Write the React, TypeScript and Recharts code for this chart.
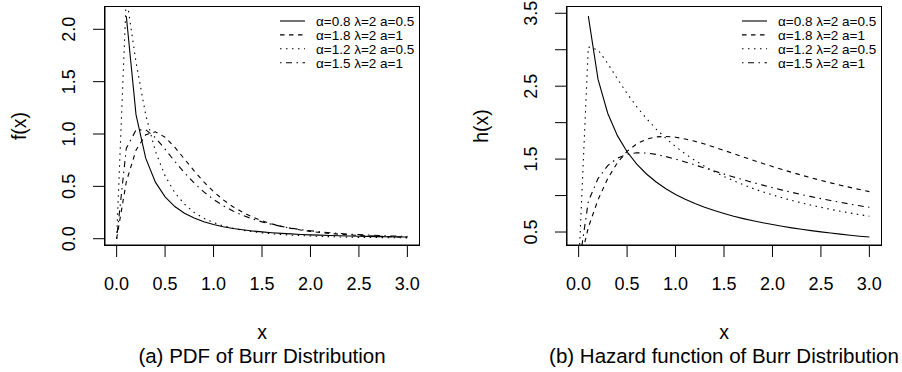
import { LineChart, Line, XAxis, YAxis, Legend, Label } from "recharts";

const FONT = '"Liberation Sans", Arial, Helvetica, sans-serif';

const xs = [
  0, 0.1, 0.2, 0.3, 0.4, 0.5, 0.6, 0.7, 0.8, 0.9, 1.0, 1.1, 1.2, 1.3, 1.4, 1.5,
  1.6, 1.7, 1.8, 1.9, 2.0, 2.1, 2.2, 2.3, 2.4, 2.5, 2.6, 2.7, 2.8, 2.9, 3.0,
];

// (a) pdf
const pdfA = [
  null, 2.125, 1.185, 0.769, 0.54, 0.4, 0.307, 0.243, 0.197, 0.162, 0.135, 0.115, 0.098, 0.085, 0.074, 0.065,
  0.057, 0.051, 0.046, 0.041, 0.037, 0.034, 0.031, 0.028, 0.026, 0.024, 0.022, 0.02, 0.019, 0.017, 0.016,
];
const pdfB = [
  0, 0.544, 0.846, 0.993, 1.021, 0.97, 0.874, 0.761, 0.648, 0.542, 0.45, 0.371, 0.306, 0.252, 0.207, 0.171,
  0.142, 0.118, 0.099, 0.083, 0.07, 0.059, 0.05, 0.043, 0.037, 0.031, 0.027, 0.024, 0.02, 0.018, 0.016,
];
const pdfC = [
  0, 2.318, 1.687, 1.183, 0.835, 0.6, 0.44, 0.33, 0.251, 0.195, 0.154, 0.123, 0.1, 0.081, 0.067, 0.056,
  0.047, 0.04, 0.034, 0.03, 0.026, 0.022, 0.02, 0.017, 0.015, 0.013, 0.012, 0.011, 0.01, 0.009, 0.008,
];
const pdfD = [
  0, 0.864, 1.038, 1.041, 0.965, 0.855, 0.739, 0.63, 0.532, 0.447, 0.375, 0.315, 0.265, 0.224, 0.189, 0.161,
  0.137, 0.118, 0.101, 0.087, 0.076, 0.066, 0.057, 0.05, 0.044, 0.039, 0.035, 0.031, 0.027, 0.024, 0.022,
];

// (b) hazard
const hazA = [
  null, 3.46, 2.596, 2.129, 1.822, 1.6, 1.43, 1.296, 1.186, 1.094, 1.016, 0.949, 0.891, 0.84, 0.794, 0.754,
  0.717, 0.684, 0.654, 0.627, 0.602, 0.578, 0.557, 0.537, 0.519, 0.502, 0.486, 0.471, 0.456, 0.443, 0.431,
];
const hazB = [
  0, 0.562, 0.942, 1.233, 1.451, 1.606, 1.71, 1.773, 1.804, 1.811, 1.8, 1.776, 1.744, 1.706, 1.664, 1.619,
  1.574, 1.529, 1.485, 1.441, 1.398, 1.357, 1.318, 1.28, 1.243, 1.208, 1.174, 1.142, 1.112, 1.082, 1.054,
];
const hazC = [
  0, 3.039, 2.998, 2.811, 2.601, 2.4, 2.218, 2.056, 1.912, 1.785, 1.672, 1.572, 1.482, 1.401, 1.328, 1.262,
  1.202, 1.148, 1.097, 1.051, 1.009, 0.97, 0.933, 0.899, 0.868, 0.839, 0.811, 0.785, 0.761, 0.738, 0.717,
];
const hazD = [
  0, 0.92, 1.232, 1.411, 1.514, 1.567, 1.587, 1.583, 1.564, 1.535, 1.5, 1.461, 1.42, 1.378, 1.336, 1.295,
  1.255, 1.216, 1.179, 1.143, 1.108, 1.075, 1.044, 1.014, 0.985, 0.958, 0.932, 0.907, 0.883, 0.86, 0.839,
];

const seriesNames = ["α=0.8 λ=2 a=0.5", "α=1.8 λ=2 a=1", "α=1.2 λ=2 a=0.5", "α=1.5 λ=2 a=1"];
const dashes = ["", "4.5 4.5", "1.5 4.5", "1.5 4.5 6 4.5"];

const xTicks = [0, 0.5, 1, 1.5, 2, 2.5, 3];
const pdfTicks = [0, 0.5, 1, 1.5, 2];
const pdfLabelled = [0, 0.5, 1, 1.5, 2];
const hazTicks = [0.5, 1, 1.5, 2, 2.5, 3, 3.5];
const hazLabelled = [0.5, 1.5, 2.5, 3.5];

const XDOM: [number, number] = [-0.12, 3.12];

const TOP = 7;
const XAXIS_H = 127;
const CHART_H = 372;

const toRows = (cols: (number | null)[][]) =>
  xs.map((x, i) => ({ x, s0: cols[0][i], s1: cols[1][i], s2: cols[2][i], s3: cols[3][i] }));

const ROW = 13.9;

const LegendBox = () => (
  <svg width={145} height={64} style={{ display: "block", overflow: "visible" }}>
    {seriesNames.map((name, i) => (
      <g key={name}>
        <line
          x1={0}
          x2={25}
          y1={10 + i * ROW}
          y2={10 + i * ROW}
          stroke="#000"
          strokeWidth={1.1}
          strokeDasharray={dashes[i] || undefined}
        />
        <text x={36} y={10 + i * ROW} dy={4.8} fontSize={13.5} fontFamily={FONT} fill="#000">
          {name}
        </text>
      </g>
    ))}
  </svg>
);

interface PanelProps {
  rows: any[];
  yDomain: [number, number];
  yTicks: number[];
  yLabelled: number[];
  yTitle: string;
  subtitle: string;
  boxLeft: number;
  boxRight: number;
  left: number;
}

const Panel = ({ rows, yDomain, yTicks, yLabelled, yTitle, subtitle, boxLeft, boxRight, left }: PanelProps) => {
  const yTick = (p: any) => {
    const v = p.payload.value;
    if (!yLabelled.some((l) => Math.abs(l - v) < 1e-6)) return <g />;
    return (
      <text
        transform={`translate(${p.x - 24.3},${p.y}) rotate(-90)`}
        textAnchor="middle"
        dy={6.4}
        fontSize={18}
        fontFamily={FONT}
        fill="#000"
      >
        {v.toFixed(1)}
      </text>
    );
  };

  const plotH = CHART_H - TOP - XAXIS_H;

  return (
    <div style={{ position: "absolute", left, top: 0, width: 451, height: CHART_H }}>
      <LineChart
        width={451}
        height={CHART_H}
        data={rows}
        margin={{ top: TOP, right: 451 - boxRight, bottom: 0, left: 0 }}
      >
        <XAxis
          dataKey="x"
          type="number"
          domain={XDOM}
          allowDataOverflow
          ticks={xTicks}
          interval={0}
          axisLine={{ stroke: "#000", strokeWidth: 1 }}
          tickLine={{ stroke: "#000" }}
          tickSize={12}
          tickMargin={20}
          height={XAXIS_H}
          tickFormatter={(v: number) => v.toFixed(1)}
          tick={{ fill: "#000", fontSize: 18, fontFamily: FONT }}
        >
          <Label value="x" position="insideTop" offset={80.6} fill="#000" fontSize={19.5} fontFamily={FONT} />
          <Label value={subtitle} position="insideTop" offset={103.1} fill="#000" fontSize={20.5} fontFamily={FONT} />
        </XAxis>
        <YAxis
          type="number"
          domain={yDomain}
          allowDataOverflow
          ticks={yTicks}
          interval={0}
          axisLine={{ stroke: "#000", strokeWidth: 1 }}
          tickLine={{ stroke: "#000" }}
          tickSize={12}
          tickMargin={0}
          width={boxLeft}
          tick={yTick}
        >
          <Label
            content={(p: any) => {
              const vb = p.viewBox || { x: 0, y: TOP, width: boxLeft, height: plotH };
              return (
                <text
                  transform={`translate(${vb.x + vb.width - 84},${vb.y + vb.height / 2}) rotate(-90)`}
                  textAnchor="middle"
                  dy={5}
                  fontSize={19.5}
                  fontFamily={FONT}
                  fill="#000"
                >
                  {yTitle}
                </text>
              );
            }}
          />
        </YAxis>
        {seriesNames.map((name, i) => (
          <Line
            key={name}
            type="linear"
            dataKey={`s${i}`}
            name={name}
            stroke="#000"
            strokeWidth={1.1}
            strokeDasharray={dashes[i] || undefined}
            dot={false}
            activeDot={false}
            isAnimationActive={false}
          />
        ))}
        <Legend
          layout="horizontal"
          verticalAlign="middle"
          align="center"
          content={() => <LegendBox />}
          wrapperStyle={{ left: boxRight - 139, top: 11, width: 145, height: 64 }}
        />
      </LineChart>
      {/* plot frame (box) */}
      <div
        style={{
          position: "absolute",
          left: boxLeft - 1,
          top: TOP - 1,
          width: boxRight - boxLeft + 2,
          height: plotH + 2,
          border: "1px solid #000",
          boxSizing: "border-box",
          pointerEvents: "none",
          zIndex: 1,
        }}
      />
    </div>
  );
};

const pdfRows = toRows([pdfA, pdfB, pdfC, pdfD]);
const hazRows = toRows([hazA, hazB, hazC, hazD]);

export default function App() {
  return (
    <div
      style={{
        position: "absolute",
        left: 0,
        top: 0,
        width: 902,
        height: 372,
        background: "#fff",
        fontFamily: FONT,
      }}
    >
      <Panel
        rows={pdfRows}
        yDomain={[-0.06, 2.213]}
        yTicks={pdfTicks}
        yLabelled={pdfLabelled}
        yTitle="f(x)"
        subtitle="(a) PDF of Burr Distribution"
        boxLeft={105}
        boxRight={419}
        left={0}
      />
      <Panel
        rows={hazRows}
        yDomain={[0.322, 3.586]}
        yTicks={hazTicks}
        yLabelled={hazLabelled}
        yTitle="h(x)"
        subtitle="(b) Hazard function of Burr Distribution"
        boxLeft={116}
        boxRight={430}
        left={451}
      />
    </div>
  );
}
